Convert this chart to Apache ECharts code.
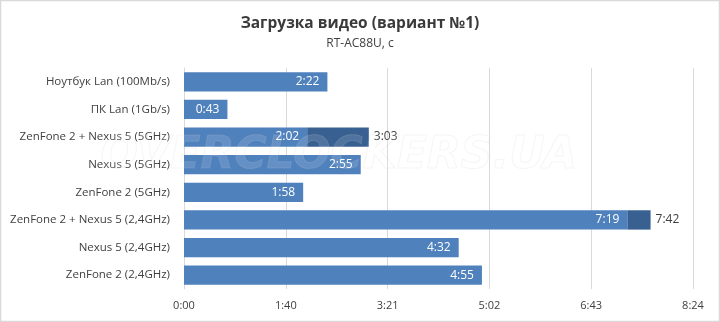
<!DOCTYPE html>
<html>
<head>
<meta charset="utf-8">
<script src="https://cdn.jsdelivr.net/npm/echarts@6/dist/echarts.min.js"></script>
<style>html,body{margin:0;padding:0;background:#fff}#c{width:720px;height:322px}</style>
</head>
<body>
<div id="c"></div>
<script>
var categories = ['Ноутбук Lan (100Mb/s)', 'ПК Lan (1Gb/s)', 'ZenFone 2 + Nexus 5 (5GHz)', 'Nexus 5 (5GHz)', 'ZenFone 2 (5GHz)', 'ZenFone 2 + Nexus 5 (2,4GHz)', 'Nexus 5 (2,4GHz)', 'ZenFone 2 (2,4GHz)'];
// seconds
var baseValues = [142, 43, 122, 175, 118, 439, 272, 295];
var totalValues = [null, null, 183, null, null, 462, null, null];
var axisMax = 504;
var axisInterval = 100.8;

function fmt(v) {
  var s = Math.floor(v + 1e-6);
  var m = Math.floor(s / 60), r = s % 60;
  return m + ':' + (r < 10 ? '0' : '') + r;
}
var extraValues = totalValues.map(function (t, i) { return t == null ? null : t - baseValues[i]; });

var font = 'Open Sans';
var chart = echarts.init(document.getElementById('c'), null, {renderer: 'canvas'});
chart.setOption({
  backgroundColor: '#ffffff',
  animation: false,
  title: {
    text: 'Загрузка видео (вариант №1)',
    subtext: 'RT-AC88U, с',
    left: 'center',
    top: 11,
    itemGap: 6,
    textStyle: {fontFamily: font, fontSize: 15.5, fontWeight: 'bold', color: '#3a3a3a'},
    subtextStyle: {fontFamily: font, fontSize: 12, color: '#404040'}
  },
  grid: {left: 184, top: 68, width: 509, height: 221, containLabel: false},
  xAxis: {
    type: 'value', min: 0, max: axisMax, interval: axisInterval,
    axisLine: {show: false}, axisTick: {show: false},
    splitLine: {lineStyle: {color: '#d9d9d9', width: 1}},
    axisLabel: {formatter: fmt, fontFamily: font, fontSize: 11, color: '#404040', margin: 11}
  },
  yAxis: {
    type: 'category', data: categories, inverse: true,
    axisLine: {lineStyle: {color: '#d9d9d9'}},
    axisTick: {length: 5, lineStyle: {color: '#d9d9d9'}},
    axisLabel: {fontFamily: font, fontSize: 11.5, color: '#404040', margin: 14}
  },
  series: [
    {
      type: 'bar', stack: 'a', data: baseValues, barCategoryGap: '30%',
      itemStyle: {color: '#4f81bd'},
      label: {show: true, position: 'insideRight', distance: 8, color: '#ffffff',
        fontFamily: font, fontSize: 12, formatter: function (p) { return fmt(p.value); }}
    },
    {
      type: 'bar', stack: 'a', data: extraValues,
      itemStyle: {color: '#386192'},
      label: {show: true, position: 'right', distance: 5, color: '#404040',
        fontFamily: font, fontSize: 12, formatter: function (p) { return fmt(totalValues[p.dataIndex]); }}
    }
  ],
  graphic: [
    {type: 'rect', shape: {x: 0.5, y: 0.5, width: 719, height: 321}, style: {fill: 'none', stroke: '#d9d9d9', lineWidth: 1.5}, silent: true},
    {type: 'text', left: 100, top: 134, z: 100, silent: true,
      style: {text: 'OVERCLOCKERS.UA', font: 'italic bold 44px "DejaVu Sans"', fill: 'rgba(255,255,255,0.12)', stroke: 'rgba(200,200,200,0.18)', lineWidth: 1}}
  ]
});
</script>
</body>
</html>
